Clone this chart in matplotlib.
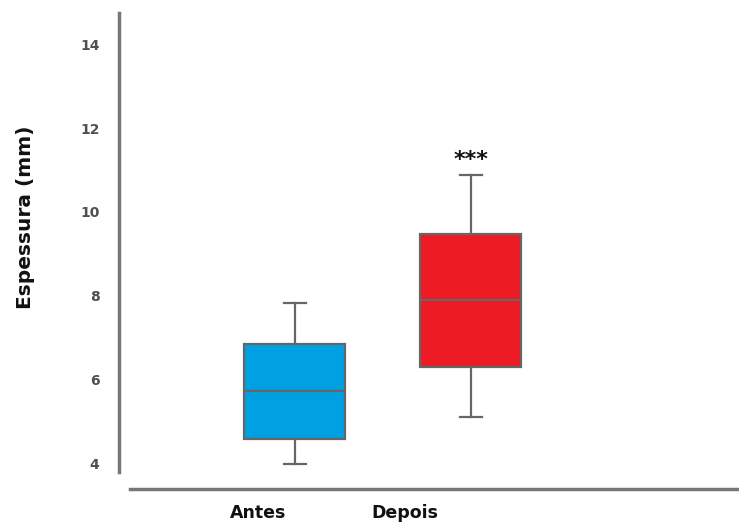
import matplotlib
matplotlib.use("Agg")
import matplotlib.pyplot as plt
from matplotlib.transforms import ScaledTranslation

# Box summary values (mm)
groups = ["Antes", "Depois"]
whisker_low = [4.0, 5.12]
q1 = [4.6, 6.31]
median = [5.74, 7.9]
q3 = [6.86, 9.48]
whisker_high = [7.83, 10.88]
colors = ["#00A0E3", "#ED1C24"]
yticks = [4, 6, 8, 10, 12, 14]

fig = plt.figure(figsize=(7.39, 5.29), dpi=100)
W, H = 739, 529
ax = fig.add_axes([130 / W, 1 - 489 / H, (739 - 130) / W, (489 - 13) / H])

stats = []
for i, g in enumerate(groups):
    stats.append(dict(label=g, whislo=whisker_low[i], q1=q1[i], med=median[i],
                      q3=q3[i], whishi=whisker_high[i], fliers=[]))

edge = "#666666"
bp = ax.bxp(stats, positions=[1, 2], widths=0.574, patch_artist=True,
            showfliers=False,
            boxprops=dict(edgecolor=edge, linewidth=1.6),
            medianprops=dict(color=edge, linewidth=1.6),
            whiskerprops=dict(color=edge, linewidth=1.6),
            capprops=dict(color=edge, linewidth=1.6))
for patch, c in zip(bp["boxes"], colors):
    patch.set_facecolor(c)
for cap in bp["caps"]:
    x = cap.get_xdata()
    mid = (x[0] + x[1]) / 2
    cap.set_xdata([mid - 0.065, mid + 0.065])

ax.set_xlim(0.0625, 3.523)
ax.set_ylim(3.40, 14.74)

# Significance marker above the second group
ax.text(2, whisker_high[1] + 0.12, "***", ha="center", va="bottom",
        fontsize=16, fontweight="bold", color="#111111")

# Spines
for s in ["top", "right"]:
    ax.spines[s].set_visible(False)
ax.spines["left"].set_position(("outward", 8))
ax.spines["left"].set_bounds(3.81, 14.74)
ax.spines["left"].set_color("#777777")
ax.spines["left"].set_linewidth(2.5)
ax.spines["bottom"].set_color("#777777")
ax.spines["bottom"].set_linewidth(2.5)

ax.set_yticks(yticks)
ax.set_yticklabels([str(t) for t in yticks], fontsize=10, fontweight="bold",
                   color="#505050")
ax.tick_params(axis="y", length=0, pad=14)

ax.set_xticks([1, 2])
ax.set_xticklabels(groups, fontsize=12.5, fontweight="bold", color="#111111")
ax.tick_params(axis="x", length=0, pad=11)
for lbl, dx in zip(ax.get_xticklabels(), [-37, -66]):
    lbl.set_transform(lbl.get_transform() + ScaledTranslation(dx / 100, 0, fig.dpi_scale_trans))

fig.text(26 / W, 1 - 217 / H, "Espessura (mm)", rotation=90, ha="center", va="center",
         fontsize=14.5, fontweight="bold", color="#111111")

fig.savefig("out.png", dpi=100)
